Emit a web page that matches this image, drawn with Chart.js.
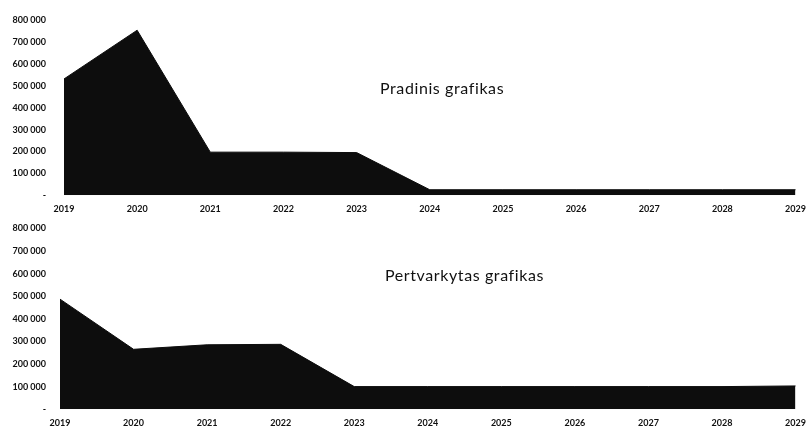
<!DOCTYPE html>
<html>
<head>
<meta charset="utf-8">
<script src="https://cdn.jsdelivr.net/npm/chart.js@4"></script>
<style>
html,body{margin:0;padding:0;background:#fff;overflow:hidden;width:808px;height:428px;position:relative;}
.box{position:absolute;left:0;width:814px;}
.ttl{position:absolute;font-family:Lato,"Open Sans",sans-serif;font-size:16px;letter-spacing:0.6px;color:#111;white-space:nowrap;}
</style>
</head>
<body>
<div class="box" id="b1" style="top:-3px;height:225px;"><canvas id="c1"></canvas></div>
<div class="box" id="b2" style="top:209px;height:227px;"><canvas id="c2"></canvas></div>
<div class="ttl" style="left:380px;top:78px;">Pradinis grafikas</div>
<div class="ttl" style="left:385px;top:265px;">Pertvarkytas grafikas</div>
<script>
const years = ['2019','2020','2021','2022','2023','2024','2025','2026','2027','2028','2029'];
const originalPlan = [532000, 755000, 197000, 197000, 195000, 25000, 25000, 25000, 25000, 25000, 25000];
const revisedPlan = [487000, 265000, 285000, 287000, 100000, 100000, 100000, 100000, 100000, 100000, 103000];
const yTicks = [0, 100000, 200000, 300000, 400000, 500000, 600000, 700000, 800000];

function fmt(v){
  if (v === 0) return '-';
  return String(v).replace(/\B(?=(\d{3})+(?!\d))/g, ' ');
}

function makeChart(id, data, padTop, axisW){
  return new Chart(document.getElementById(id), {
    type: 'line',
    data: {
      labels: years,
      datasets: [{
        data: data,
        fill: 'origin',
        backgroundColor: '#0d0d0d',
        borderColor: '#0d0d0d',
        borderWidth: 1,
        pointRadius: 0,
        tension: 0
      }]
    },
    options: {
      responsive: true,
      maintainAspectRatio: false,
      animation: false,
      layout: { padding: { top: padTop, bottom: 0, left: 0, right: 0 } },
      plugins: { legend: { display: false }, tooltip: { enabled: false } },
      scales: {
        x: {
          offset: false,
          grid: { display: false, drawTicks: false },
          border: { display: false },
          ticks: { color: '#111', padding: 8, maxRotation: 0, autoSkip: false,
                   font: { family: 'Lato', size: 9, weight: 'bold' } }
        },
        y: {
          min: 0, max: 800000,
          afterBuildTicks: s => { s.ticks = yTicks.map(v => ({ value: v })); },
          afterFit: s => { s.width = axisW; },
          grid: { display: false, drawTicks: false },
          border: { display: false },
          ticks: { color: '#111', padding: axisW - 46, callback: v => fmt(v),
                   font: { family: 'Lato', size: 9, weight: 'bold' } }
        }
      }
    }
  });
}
makeChart('c1', originalPlan, 10, 64);
makeChart('c2', revisedPlan, 16, 60);
</script>
</body>
</html>
